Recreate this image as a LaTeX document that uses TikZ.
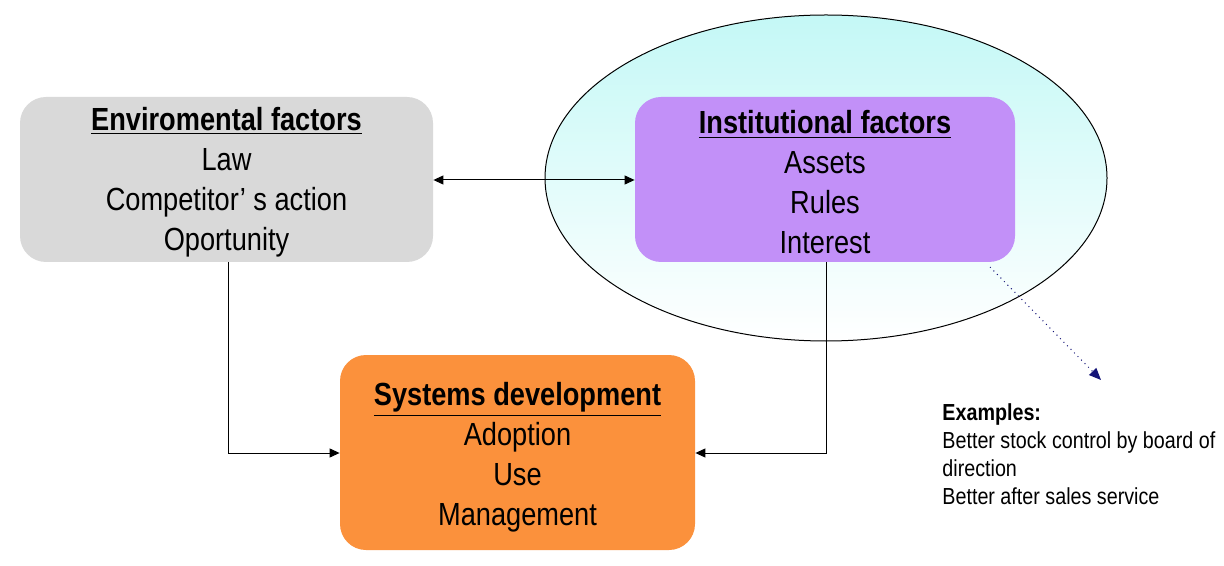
\documentclass[tikz,border=0pt]{standalone}
\usepackage{fontspec}
\setmainfont{Liberation Sans}[FakeStretch=0.85]
\usetikzlibrary{arrows.meta,shapes.geometric}
\definecolor{envgray}{RGB}{217,217,217}
\definecolor{instpurple}{RGB}{194,144,248}
\definecolor{sysorange}{RGB}{251,145,60}
\definecolor{ellcyan}{RGB}{196,248,246}
\definecolor{navyline}{RGB}{20,20,120}
\tikzset{
  factorbox/.style={rounded corners=13pt, inner sep=0pt, draw=none},
  factortext/.style={inner sep=0pt, align=center, font=\fontsize{16}{20}\selectfont},
  link/.style={draw=black, line width=0.5pt},
  tipped/.style={-{Triangle[length=5pt,width=4.5pt]}},
}
\begin{document}
\begin{tikzpicture}[x=0.5pt,y=-0.5pt]
\useasboundingbox (0,0) rectangle (1224,566);
% ellipse
\shade[top color=ellcyan, bottom color=white] (826,178) ellipse [x radius=281, y radius=163];
\draw[line width=0.5pt] (826,178) ellipse [x radius=281, y radius=163];
% boxes
\node[factorbox, fill=envgray, minimum width=206.5pt, minimum height=82.5pt] (env) at (226.5,179.5) {};
\node[factortext] (envtext) at ([yshift=-1.5pt]env.center)
  {\textbf{\underline{Enviromental factors}}\\Law\\Competitor’ s action\\Oportunity};
\node[factorbox, fill=instpurple, minimum width=190pt, minimum height=82.5pt] (inst) at (825,179.5) {};
\node[factortext] (insttext) at ([yshift=-1.5pt]inst.center)
  {\textbf{\underline{Institutional factors}}\\Assets\\Rules\\Interest};
\node[factorbox, fill=sysorange, minimum width=177.5pt, minimum height=97.5pt] (sys) at (517.5,452.5) {};
\node[factortext] (systext) at ([yshift=-2.5pt]sys.center)
  {\textbf{\underline{Systems development}}\\Adoption\\Use\\Management};
% connectors
\draw[link, {Triangle[length=5pt,width=4.5pt]}-{Triangle[length=5pt,width=4.5pt]}]
  (env.east |- 0,180) -- (inst.west |- 0,180);
\coordinate (envdown) at (228,453);
\coordinate (instdown) at (826,453);
\draw[link, tipped] (env.south -| envdown) -- (envdown) -- (sys.west |- envdown);
\draw[link, tipped] (inst.south -| instdown) -- (instdown) -- (sys.east |- instdown);
% examples
\coordinate (dotstart) at (990,267);
\node[anchor=north west, inner sep=0pt, align=left, font=\fontsize{11.6}{14}\selectfont] (examples) at (942,403)
  {\textbf{Examples:}\\Better stock control by board of\\direction\\Better after sales service};
\draw[navyline, dotted, line width=0.5pt, -{Triangle[length=6pt,width=5pt]}] (dotstart) -- (1101,380);
\end{tikzpicture}
\end{document}
